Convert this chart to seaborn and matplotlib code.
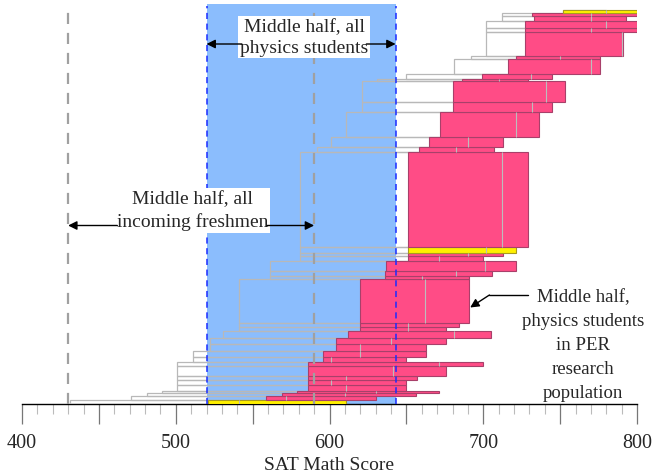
import numpy as np
import matplotlib
matplotlib.use("Agg")
import matplotlib.pyplot as plt
import seaborn as sns

# one row per group, listed bottom to top; row height ~ number of students
row_n = [3.2, 4, 3.3, 2.5, 6, 5, 4, 10, 3.5, 5, 6, 7, 6.5, 7, 3.8, 4.2, 43.5, 3.3, 5.2, 10,
         5, 3, 6, 95, 4.5, 10.5, 24.7, 10, 20.7, 2.5, 5, 15, 2.5, 24.3, 3.4, 7.6, 5, 3.2, 3]
# middle half of incoming freshmen (white boxes)
fresh_lo = [431, 471, 481, 491, 501, 501, 501, 501, 501, 511, 511, 522, 522, 531, 541, 541, 541, 561, 561, 561,
            581, 581, 581, 581, 592, 601, 611, 621, 621, 631, 650, 681, 692, 702, 702, 702, 712, 712, 752]
fresh_hi = [600, 600, 610, 620, 620, 620, 620, 630, 630, 620, 630, 630, 640, 650, 650, 650, 660, 670, 670, 680,
            680, 690, 690, 700, 690, 700, 710, 720, 720, 710, 720, 740, 750, 760, 760, 760, 760, 760, 780]
# middle half of physics students in the PER population (coloured boxes)
per_lo = [521, 559, 569, 579, 586, 586, 586, 586, 586, 596, 596, 604, 604, 612, 620, 620, 620, 636, 636, 637,
          651, 651, 651, 651, 658, 665, 672, 680, 680, 686, 699, 716, 721, 727, 727, 727, 733, 732, 752]
per_med = [541, 572, 610, 630, 611, 601, 611, 641, 671, 601, 620, 620, 640, 681, 651, 651, 662, 660, 682, 701,
           671, 690, 702, 712, 682, 690, 721, 732, 741, 710, 731, 770, 750, 790, 770, 780, 770, 770, 780]
per_hi = [611, 630, 656, 671, 650, 650, 657, 676, 700, 650, 663, 663, 676, 705, 676, 684, 691, 691, 706, 721,
          700, 713, 721, 729, 707, 713, 736, 745, 753, 729, 745, 776, 776, 791, 800, 800, 793, 800, 800]
per_group = ['y', 'p', 'p', 'p', 'p', 'p', 'p', 'p', 'p', 'p', 'p', 'p', 'p', 'p', 'p', 'p', 'p', 'p', 'p', 'p',
             'p', 'p', 'y', 'p', 'p', 'p', 'p', 'p', 'p', 'p', 'p', 'p', 'p', 'p', 'p', 'p', 'p', 'p', 'y']

all_phys = (520, 643)      # middle half, all physics students
all_fresh = (430, 590)     # middle half, all incoming freshmen

sns.set_style("white")
plt.rcParams['font.family'] = ['Liberation Serif', 'DejaVu Serif']

fig = plt.figure(figsize=(6.56, 4.77), dpi=100)
ax = fig.add_axes([22 / 656, 72 / 477, 615 / 656, 400 / 477])

n = np.array(row_n)
bottoms = 0.5 + np.concatenate([[0], np.cumsum(n)[:-1]])
flo = np.array(fresh_lo)
fhi = np.array(fresh_hi)
plo = np.array(per_lo)
phi = np.array(per_hi)

# white freshman boxes: fill below the blue band, outline above it
ax.barh(bottoms, fhi - flo, left=flo, height=n, align='edge', color='white', edgecolor='none', zorder=1)
ax.axvspan(*all_phys, color='#8BBDFD', zorder=2, lw=0)
ax.barh(bottoms, fhi - flo, left=flo, height=n, align='edge', facecolor='none',
        edgecolor='#B8B8B8', lw=0.9, zorder=3)

# PER population boxes
fills = {'p': '#FF4C86', 'y': '#FFF000'}
edges = {'p': '#A8406A', 'y': '#A89A20'}
face = [fills[g] for g in per_group]
edge = [edges[g] for g in per_group]
ax.barh(bottoms, phi - plo, left=plo, height=n, align='edge', color=face, edgecolor=edge, lw=0.8, zorder=4)
ax.vlines(per_med, bottoms, bottoms + n, color='#BDBDBD', lw=0.8, zorder=5)

# reference lines
for v in all_phys:
    ax.axvline(v, ymin=0, ymax=0.995, color='#1A2BFF', ls=(0, (4, 3)), lw=1.1, zorder=6)
for v in all_fresh:
    ax.axvline(v, ymin=0, ymax=0.99, color='#A0A0A0', ls=(0, (5, 4)), lw=1.6, zorder=6)

arrow = dict(arrowstyle='-|>', color='black', lw=1.0, mutation_scale=13, shrinkA=0, shrinkB=0)

ax.text(583.5, 367, "Middle half, all\nphysics students", ha='center', va='center', fontsize=14,
        linespacing=1.36, bbox=dict(facecolor='white', edgecolor='none', pad=1.5), zorder=8)
ax.annotate("", xy=(all_phys[0], 360), xytext=(543, 360), arrowprops=arrow, zorder=8)
ax.annotate("", xy=(all_phys[1], 360), xytext=(624, 360), arrowprops=arrow, zorder=8)

ax.text(511, 193.5, "Middle half, all\nincoming freshmen", ha='center', va='center', fontsize=14,
        linespacing=1.36, bbox=dict(facecolor='white', edgecolor='none', pad=1.5), zorder=8)
ax.annotate("", xy=(all_fresh[0], 178.5), xytext=(462, 178.5), arrowprops=arrow, zorder=8)
ax.annotate("", xy=(all_fresh[1], 178.5), xytext=(559.5, 178.5), arrowprops=arrow, zorder=8)

ax.text(765, 59.5, "Middle half,\nphysics students\nin PER\nresearch\npopulation", ha='center', va='center',
        fontsize=13.5, linespacing=1.52, zorder=8)
ax.plot([729, 704], [109, 109], color='black', lw=1.0, zorder=8)
ax.annotate("", xy=(691.5, 96.5), xytext=(704, 109), arrowprops=arrow, zorder=8)

ax.set_xlim(400, 800)
ax.set_ylim(0, 400)
ax.set_yticks([])
for s in ['left', 'right', 'top']:
    ax.spines[s].set_visible(False)
ax.spines['bottom'].set_color('black')
ax.spines['bottom'].set_linewidth(1.0)

ax.set_xticks(np.arange(400, 801, 50))
ax.set_xticklabels([str(v) if v % 100 == 0 else '' for v in range(400, 801, 50)])
ax.set_xticks(np.arange(400, 801, 10), minor=True)
ax.tick_params(axis='x', which='both', bottom=True)
ax.tick_params(axis='x', which='major', direction='out', length=14.4, width=0.9, color='#777777',
               labelsize=14.5, pad=6.5)
ax.tick_params(axis='x', which='minor', direction='out', length=7.2, width=0.8, color='#BBBBBB')
ax.set_xlabel("SAT Math Score", fontsize=14, labelpad=3)

fig.savefig("out.png", dpi=100)
